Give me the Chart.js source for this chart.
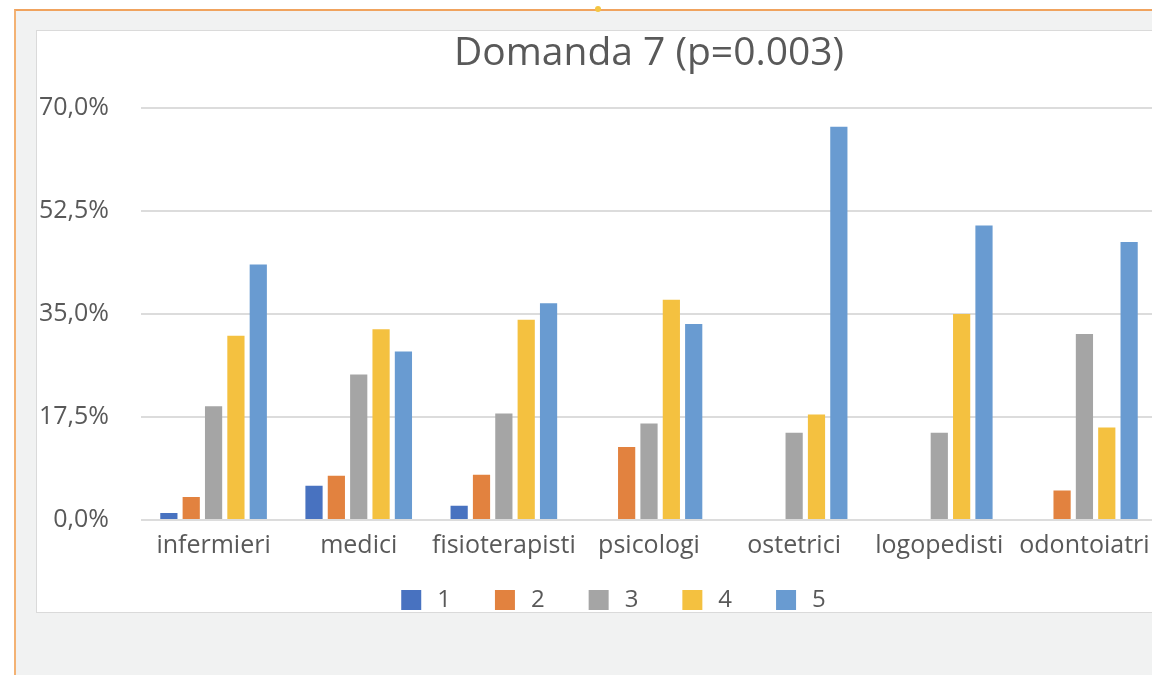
<!DOCTYPE html>
<html><head><meta charset="utf-8">
<script src="https://cdn.jsdelivr.net/npm/chart.js@4.4.0/dist/chart.umd.min.js"></script>
<style>
html,body{margin:0;padding:0;width:1152px;height:675px;overflow:hidden;background:#fff;}
#frame{position:absolute;left:14px;top:9px;width:1200px;height:700px;background:#f1f2f2;border-left:2px solid #f3b274;border-top:2px solid #f0a35e;}
#panel{position:absolute;left:36px;top:30px;width:1200px;height:581px;background:#fff;border:1px solid #dadada;}
#dot{position:absolute;left:595px;top:6px;width:6px;height:6px;border-radius:3px;background:#f4c542;}
canvas{position:absolute;left:0;top:0;}
</style></head>
<body>
<div id="frame"></div><div id="panel"></div><div id="dot"></div>
<canvas id="c" width="1170" height="675"></canvas>
<script>
const categories = ['infermieri','medici','fisioterapisti','psicologi','ostetrici','logopedisti','odontoiatri'];
const seriesNames = ['1','2','3','4','5'];
const s1 = [1.2, 5.8, 2.4, null, null, null, null];
const s2 = [3.9, 7.5, 7.7, 12.4, null, null, 5.0];
const s3 = [19.3, 24.7, 18.1, 16.4, 14.8, 14.8, 31.6];
const s4 = [31.3, 32.4, 34.0, 37.4, 17.9, 35.0, 15.7];
const s5 = [43.4, 28.6, 36.8, 33.3, 66.8, 50.0, 47.2];
const yTicks = ['0,0%','17,5%','35,0%','52,5%','70,0%'];
const colors = ['#4872C0','#E2823F','#A5A5A5','#F4C140','#699BD1'];

const FONT = "'Open Sans', sans-serif";
const TXT = '#595959';
const values = [s1, s2, s3, s4, s5];

// nudge the legend box into place after layout
const legendShift = {
  id: 'legendShift',
  afterLayout(chart) {
    const l = chart.legend;
    if (!l) return;
    l.left += 20; l.right += 20;
    l.top -= 16; l.bottom -= 16;
  }
};

new Chart(document.getElementById('c'), {
  type: 'bar',
  data: {
    labels: categories,
    datasets: values.map((v, i) => ({
      label: seriesNames[i],
      data: v,
      backgroundColor: colors[i],
      borderWidth: 0,
      categoryPercentage: 0.77,
      barPercentage: 0.77
    }))
  },
  plugins: [legendShift],
  options: {
    responsive: false,
    animation: false,
    layout: { padding: { left: 30, right: 13, top: 0, bottom: 37 } },
    plugins: {
      title: {
        display: true,
        text: 'Domanda 7 (p=0.003)',
        fullSize: false,
        color: TXT,
        font: { family: FONT, size: 39, weight: 'normal' },
        padding: { top: 30, bottom: 31 }
      },
      legend: {
        position: 'bottom',
        labels: {
          boxWidth: 20, boxHeight: 20, padding: 44,
          color: TXT,
          font: { family: FONT, size: 24 },
          generateLabels: chart => Chart.defaults.plugins.legend.labels.generateLabels(chart)
            .map(it => Object.assign(it, { text: '\u2009' + it.text }))
        }
      },
      tooltip: { enabled: false }
    },
    scales: {
      x: {
        grid: { display: false, drawTicks: false },
        border: { display: false },
        ticks: {
          color: TXT, font: { family: FONT, size: 25 },
          padding: 11, autoSkip: false, maxRotation: 0, minRotation: 0
        },
        afterFit: s => { s.height = 40; }
      },
      y: {
        min: 0, max: 70,
        grid: { color: '#dcdcdc', lineWidth: 2, drawTicks: false },
        border: { display: false },
        ticks: {
          stepSize: 17.5,
          color: TXT, font: { family: FONT, size: 25 },
          padding: 32,
          callback: (v, i) => yTicks[i]
        },
        afterFit: s => { s.width = 111; }
      }
    }
  }
});
</script>
</body></html>
